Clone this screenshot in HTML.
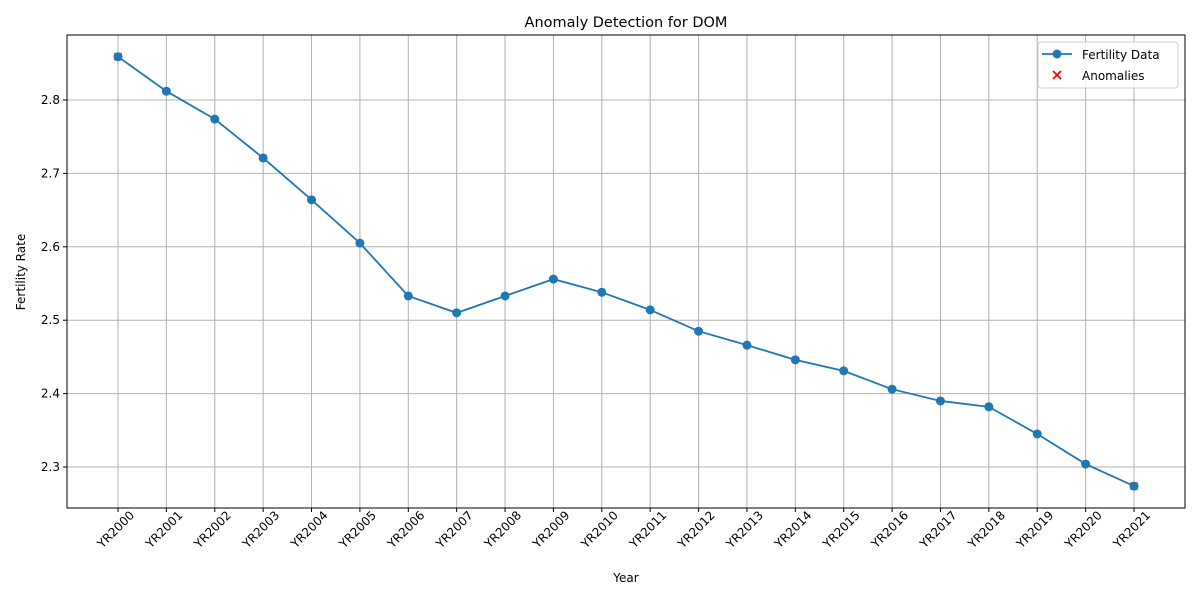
<!DOCTYPE html>
<html><head><meta charset="utf-8"><style>
body{margin:0;background:#fff;}
svg{display:block;font-family:"DejaVu Sans","Liberation Sans",sans-serif;}
</style></head><body>
<svg id="chart" width="1200" height="600">
<rect x="0" y="0" width="1200" height="600" fill="#fff"/>
<g id="grid"></g>
<g id="xaxis"></g>
<g id="yaxis"></g>
<g id="series"></g>
<rect x="67" y="35" width="1118" height="473" fill="none" stroke="#000" stroke-width="1"/>
<text x="626" y="27" text-anchor="middle" font-size="14.5">Anomaly Detection for DOM</text>
<text x="626" y="582" text-anchor="middle" font-size="12">Year</text>
<text x="25" y="272" text-anchor="middle" font-size="12" transform="rotate(-90 25 272)">Fertility Rate</text>
<g>
<rect x="1038" y="42" width="140" height="46" rx="3" fill="#fff" fill-opacity="0.8" stroke="#ccc"/>
<g>
<line x1="1042" y1="54" x2="1072" y2="54" stroke="#1f77b4" stroke-width="1.8"/>
<circle cx="1057" cy="54" r="4.5" fill="#1f77b4"/>
<text x="1082" y="59" font-size="12">Fertility Data</text></g>
<g>
<path d="M1053 71 L1061 79 M1061 71 L1053 79" stroke="red" stroke-width="1.8"/>
<text x="1082" y="80" font-size="12">Anomalies</text></g>
</g>
</svg>
<script>
const years=["YR2000","YR2001","YR2002","YR2003","YR2004","YR2005","YR2006","YR2007","YR2008","YR2009","YR2010","YR2011","YR2012","YR2013","YR2014","YR2015","YR2016","YR2017","YR2018","YR2019","YR2020","YR2021"];
const fertility=[2.859,2.812,2.774,2.721,2.664,2.605,2.533,2.510,2.533,2.556,2.538,2.514,2.485,2.466,2.446,2.431,2.406,2.390,2.382,2.345,2.304,2.274];
const anomalyIdx=[0,21];
const yTicks=[2.3,2.4,2.5,2.6,2.7,2.8];
const NS="http://www.w3.org/2000/svg";
function X(i){return 118+i*(1134-118)/(years.length-1);}
function Y(v){return 467-(v-2.3)*734;}
function mk(tag,attrs,parent){const e=document.createElementNS(NS,tag);for(const k in attrs)e.setAttribute(k,attrs[k]);parent.appendChild(e);return e;}
const grid=document.getElementById('grid'),xa=document.getElementById('xaxis'),ya=document.getElementById('yaxis'),se=document.getElementById('series');
years.forEach((y,i)=>{
  const x=X(i);
  const g=mk('line',{x1:x,y1:35,x2:x,y2:508,stroke:'#b0b0b0','stroke-width':1},grid);
  
  
  mk('line',{x1:x,y1:508,x2:x,y2:512,stroke:'#000'},xa);
  const t=mk('text',{x:x+17,y:516,'font-size':12,'text-anchor':'end',transform:`rotate(-45 ${x+17} 516)`},xa);
  t.textContent=y;
  
  
});
yTicks.forEach(v=>{
  const y=Y(v);
  const g=mk('line',{x1:67,y1:y,x2:1185,y2:y,stroke:'#b0b0b0','stroke-width':1},grid);
  
  
  mk('line',{x1:63,y1:y,x2:67,y2:y,stroke:'#000'},ya);
  const t=mk('text',{x:60,y:y+4,'font-size':12,'text-anchor':'end'},ya);
  t.textContent=v.toFixed(1);
  
  
});
anomalyIdx.forEach(i=>{
  const x=X(i),y=Y(fertility[i]);
  const p=mk('path',{d:`M${x-3.5} ${y-3.5} L${x+3.5} ${y+3.5} M${x+3.5} ${y-3.5} L${x-3.5} ${y+3.5}`,stroke:'red','stroke-width':1.5},se);
  
  
});
const line=mk('polyline',{points:fertility.map((v,i)=>X(i)+','+Y(v)).join(' '),fill:'none',stroke:'#1f77b4','stroke-width':1.8},se);


fertility.forEach((v,i)=>{
  const c=mk('circle',{cx:X(i),cy:Y(v),r:4.5,fill:'#1f77b4'},se);
  
  
});
</script>
</body></html>
